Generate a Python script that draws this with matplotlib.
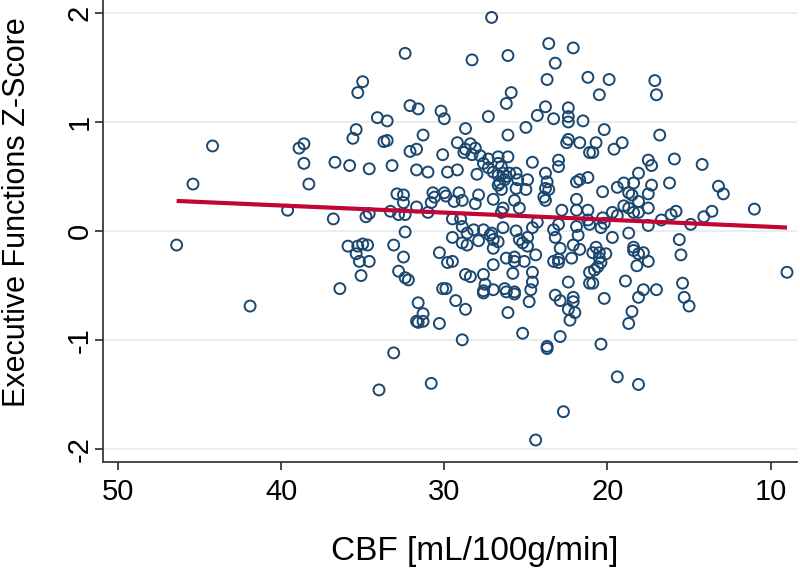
import matplotlib
matplotlib.use("Agg")
import matplotlib.pyplot as plt
import numpy as np

plt.rcParams['font.family'] = ['Liberation Sans', 'DejaVu Sans']
plt.rcParams['axes.unicode_minus'] = False

cbf = [
    46.4, 45.4, 44.2, 41.9, 39.6, 38.9, 38.6, 38.6, 38.3,
    36.8, 36.7, 35.8, 35.6, 35.4, 35.3, 35.0, 34.8, 34.6, 34.6, 34.1, 33.5, 33.7, 33.5,
    33.2, 33.3, 32.9, 32.5, 32.5, 32.8, 32.4, 32.4, 32.4, 32.1, 32.1,
    35.9, 35.3, 35.0, 34.7, 35.4, 35.2, 34.6, 35.1, 36.4, 33.1, 32.5, 32.8, 32.4, 32.2, 33.1, 34.0,
    27.1, 28.3, 31.6, 30.2, 30.0, 27.3, 28.7, 31.3, 31.7, 30.1, 29.2, 28.8, 28.7, 28.4, 28.1, 28.3,
    27.8, 27.6, 27.3, 27.3, 26.7, 28.0, 31.7, 31.0, 29.8, 29.2, 26.7, 26.6, 30.7, 30.6, 30.8, 31.0,
    30.0, 29.9, 29.4, 29.1, 28.9, 27.9, 28.1, 27.0, 31.7, 29.5, 29.0, 28.9, 28.6, 28.2, 27.6, 27.1,
    29.5, 26.5,
    28.9, 28.6, 27.9, 27.2, 27.0, 27.0, 26.7, 30.3, 29.8, 29.5, 27.0, 28.7, 28.4, 27.6, 27.5, 27.6,
    27.6, 27.0, 30.1, 29.9, 29.3, 28.7, 31.6, 31.3, 31.7, 31.3, 31.6, 30.3, 28.9, 30.8,
    26.1, 23.6, 22.1, 23.2, 23.7, 21.2, 25.9, 26.2, 23.8, 24.3, 23.3, 22.4, 22.4, 22.4, 21.5, 25.0,
    26.1, 22.4, 22.5, 21.7, 21.1, 24.6, 23.0, 23.0, 26.1, 26.7, 26.5, 27.0, 26.4, 26.2, 26.0, 26.3,
    25.6, 25.5, 26.7, 26.5, 24.9, 25.0, 25.6, 23.8, 23.7, 23.8, 23.6, 23.9, 23.8, 25.7, 26.4, 25.4,
    21.9, 21.7, 21.2, 21.9, 22.8, 21.9, 21.2, 24.3, 24.6, 23.3, 23.0, 26.4, 25.6, 24.9, 21.9, 21.8,
    25.4, 25.2, 24.9, 23.2, 26.2, 25.7, 25.7, 25.1, 24.4, 25.8, 24.6, 24.6, 23.3, 23.0, 23.0, 22.2,
    22.9, 22.1, 21.7, 22.4, 26.3, 26.2, 25.7, 25.7, 24.7, 24.8, 23.2, 22.9, 22.1, 22.1, 22.4, 22.0,
    22.3, 26.1, 25.2, 22.9, 23.7, 23.7, 22.7, 24.4, 21.1, 21.1,
    19.9, 20.5, 17.1, 17.0, 20.2, 16.8, 20.7, 20.9, 19.6, 19.1, 17.5, 17.3, 15.9, 18.1, 20.3, 19.4,
    19.0, 18.4, 18.7, 18.5, 18.1, 17.3, 17.5, 16.2, 19.0, 18.7, 18.4, 18.1, 17.5, 19.7, 19.4, 20.3,
    20.2, 20.4, 21.1, 21.2, 16.7, 16.1, 15.8, 17.5, 18.7, 19.7,
    20.7, 20.9, 20.5, 20.1, 20.5, 20.4, 20.8, 20.6, 20.9, 18.4, 18.4, 18.1, 17.8, 17.5, 18.2, 18.9,
    17.8, 18.1, 17.0, 20.2, 18.5, 18.7, 20.4, 19.4, 18.1,
    14.2, 13.2, 12.9, 13.6, 14.1, 11.0, 14.9, 15.6, 15.5, 9.0, 15.4, 15.3, 15.0,
]

ef = [
    -0.13, 0.43, 0.78, -0.69, 0.19, 0.76, 0.80, 0.62, 0.43,
    0.11, 0.63, 0.60, 0.85, 0.93, 1.27, 1.37, 0.13, 0.16, 0.57, 1.04, 1.01, 0.82, 0.83,
    0.60, 0.18, 0.34, 0.33, 0.26, 0.15, 0.15, -0.01, 1.63, 1.15, 0.73,
    -0.14, -0.14, -0.12, -0.13, -0.21, -0.28, -0.28, -0.41, -0.53, -0.13, -0.24, -0.37, -0.43, -0.45, -1.12, -1.46,
    1.96, 1.57, 1.12, 1.10, 1.03, 1.05, 0.94, 0.88, 0.75, 0.70, 0.81, 0.72, 0.75, 0.80, 0.76, 0.70,
    0.69, 0.62, 0.66, 0.58, 0.68, 0.52, 0.56, 0.54, 0.54, 0.56, 0.51, 0.44, 0.35, 0.31, 0.26, 0.17,
    0.35, 0.32, 0.27, 0.35, 0.28, 0.33, 0.25, 0.29, 0.22, 0.11, 0.11, 0.04, -0.02, 0.01, 0.01, -0.02,
    -0.06, 0.17,
    -0.11, -0.13, -0.09, -0.04, -0.08, -0.16, -0.10, -0.20, -0.29, -0.28, -0.31, -0.40, -0.42, -0.40, -0.49, -0.55,
    -0.57, -0.54, -0.53, -0.53, -0.64, -0.72, -0.66, -0.76, -0.83, -0.83, -0.84, -0.85, -1.00, -1.40,
    1.61, 1.72, 1.68, 1.54, 1.39, 1.41, 1.27, 1.17, 1.14, 1.06, 1.03, 1.13, 1.05, 1.00, 1.01, 0.95,
    0.88, 0.84, 0.81, 0.81, 0.72, 0.63, 0.65, 0.59, 0.68, 0.62, 0.59, 0.54, 0.53, 0.50, 0.53, 0.47,
    0.53, 0.47, 0.42, 0.38, 0.47, 0.38, 0.39, 0.53, 0.45, 0.39, 0.38, 0.31, 0.28, 0.28, 0.21, 0.21,
    0.45, 0.47, 0.49, 0.29, 0.19, 0.19, 0.19, 0.08, 0.03, 0.01, 0.06, 0.03, 0.00, -0.06, 0.04, -0.04,
    -0.08, -0.11, -0.14, -0.06, -0.25, -0.24, -0.28, -0.28, -0.22, -0.39, -0.38, -0.47, -0.28, -0.26, -0.29, -0.25,
    -0.16, -0.13, -0.17, -0.47, -0.53, -0.56, -0.56, -0.58, -0.54, -0.65, -0.59, -0.64, -0.61, -0.65, -0.72, -0.75,
    -0.82, -0.75, -0.94, -0.97, -1.06, -1.08, -1.66, -1.92, -0.38, -0.48,
    1.39, 1.25, 1.38, 1.25, 0.93, 0.88, 0.81, 0.72, 0.75, 0.81, 0.65, 0.60, 0.66, 0.53, 0.36, 0.40,
    0.44, 0.44, 0.35, 0.33, 0.27, 0.42, 0.34, 0.44, 0.23, 0.21, 0.17, 0.17, 0.21, 0.17, 0.14, 0.12,
    0.07, 0.03, 0.06, 0.10, 0.10, 0.15, 0.18, 0.05, -0.02, -0.06,
    -0.15, -0.20, -0.20, -0.21, -0.25, -0.29, -0.36, -0.33, -0.48, -0.15, -0.18, -0.21, -0.20, -0.28, -0.32, -0.46,
    -0.54, -0.61, -0.54, -0.62, -0.74, -0.85, -1.04, -1.34, -1.41,
    0.61, 0.41, 0.34, 0.18, 0.13, 0.20, 0.06, -0.08, -0.22, -0.38, -0.48, -0.61, -0.69,
]

fit_intercept = -0.028
fit_slope = 0.00653

x_ticks = [50, 40, 30, 20, 10]
y_ticks = [-2, -1, 0, 1, 2]

navy = '#1a476f'
red = '#c10534'

fig = plt.figure(figsize=(8.0, 5.68), dpi=100)
ax = fig.add_axes([0.129, 0.187, 0.867, 0.813])

ax.grid(axis='y', color='#e6eef2', linewidth=1.4, zorder=0)
ax.set_axisbelow(True)

ax.scatter(cbf, ef, s=62, facecolors='none', edgecolors=navy, linewidths=1.4, zorder=3)

xline = np.array([min(cbf), max(cbf)])
ax.plot(xline, fit_intercept + fit_slope * xline, color=red, linewidth=3.0,
        solid_capstyle='butt', zorder=4)

ax.set_xlim(50.9, 8.4)
ax.set_ylim(-2.12, 2.12)
ax.set_xticks(x_ticks)
ax.set_yticks(y_ticks)
ax.set_yticklabels([str(v) for v in y_ticks], rotation=90, va='center')

for s in ['top', 'right']:
    ax.spines[s].set_visible(False)
for s in ['left', 'bottom']:
    ax.spines[s].set_color('#3a3a3a')
    ax.spines[s].set_linewidth(1.3)

ax.tick_params(axis='both', colors='#3a3a3a', length=6, width=1.3,
               labelsize=21, labelcolor='black')
ax.tick_params(axis='x', pad=6)
ax.tick_params(axis='y', pad=1)

ax.set_xlabel('CBF [mL/100g/min]', fontsize=24)
ax.set_ylabel('Executive Functions Z-Score', fontsize=22)
ax.xaxis.set_label_coords(0.536, -0.16)
ax.yaxis.set_label_coords(-0.102, 0.541)

fig.savefig('out.png', dpi=100)
